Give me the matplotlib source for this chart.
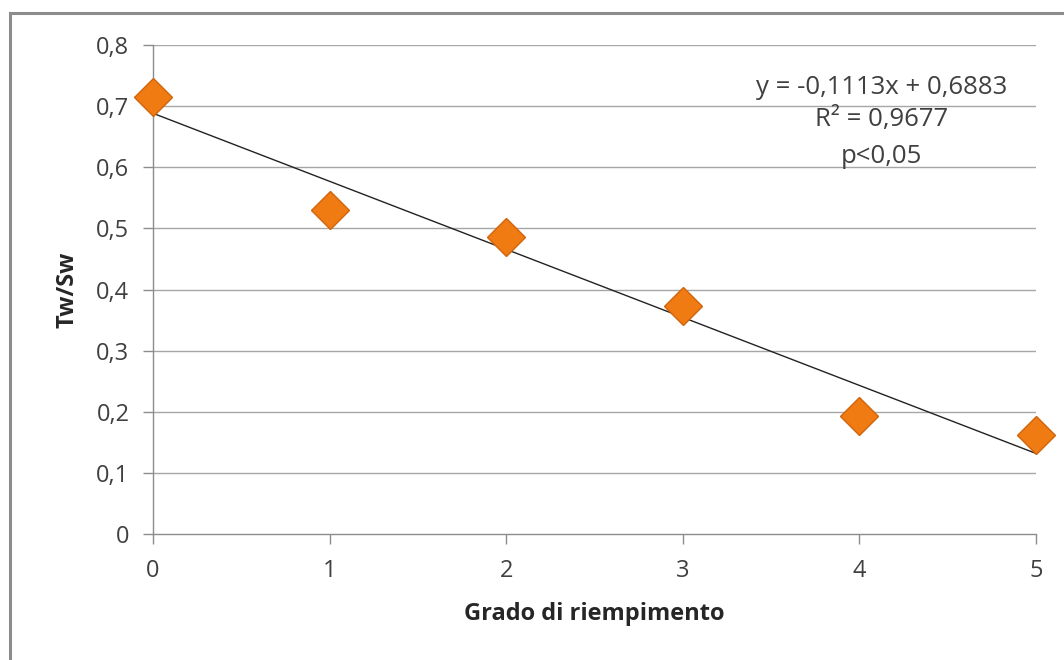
import matplotlib.pyplot as plt
from matplotlib.patches import Rectangle
from matplotlib.ticker import FuncFormatter

# data
grado = [0, 1, 2, 3, 4, 5]
tw_sw = [0.715, 0.530, 0.486, 0.373, 0.193, 0.162]

# trend line from the printed equation
slope = -0.1113
intercept = 0.6883
r2_text = "R\u00b2 = 0,9677"
p_text = "p<0,05"

plt.rcParams['font.family'] = ['Open Sans', 'DejaVu Sans']

fig = plt.figure(figsize=(10.64, 6.6), dpi=100)
ax = fig.add_axes([0.1438, 0.1909, 0.8299, 0.7409])

# outer chart frame
fig.patches.append(Rectangle((10 / 1064, -0.1), 1.2, (660 - 13) / 660 + 0.1,
                             transform=fig.transFigure, fill=False,
                             edgecolor='#8c8c8c', linewidth=2.2))

for y in [0.1, 0.2, 0.3, 0.4, 0.5, 0.6, 0.7, 0.8]:
    ax.axhline(y, color='#a6a6a6', linewidth=1.0, zorder=0)

x_fit = [grado[0], grado[-1]]
y_fit = [intercept + slope * x for x in x_fit]
ax.plot(x_fit, y_fit, color='#222222', linewidth=1.0, zorder=2)

ax.plot(grado, tw_sw, linestyle='none', marker='D', markersize=19,
        markerfacecolor='#f07b12', markeredgecolor='#d0650c',
        markeredgewidth=1.0, zorder=3, clip_on=False)

ax.set_xlim(0, 5)
ax.set_ylim(0, 0.8)
ax.set_xticks(grado)
ax.set_yticks([0, 0.1, 0.2, 0.3, 0.4, 0.5, 0.6, 0.7, 0.8])
ax.yaxis.set_major_formatter(FuncFormatter(lambda v, p: ('%g' % round(v, 1)).replace('.', ',')))

for s in ['top', 'right']:
    ax.spines[s].set_visible(False)
for s in ['left', 'bottom']:
    ax.spines[s].set_color('#8c8c8c')
    ax.spines[s].set_linewidth(1.0)

ax.tick_params(axis='both', colors='#8c8c8c', labelcolor='#404040',
               labelsize=17, length=7, width=1.0)
ax.tick_params(axis='x', pad=11)
ax.tick_params(axis='y', pad=10)

ax.set_xlabel('Grado di riempimento', fontsize=17, fontweight='bold',
              color='#262626', labelpad=14)
ax.set_ylabel('Tw/Sw', fontsize=17, fontweight='bold', color='#262626',
              labelpad=12)

eq_text = "y = %s x + %s" % (str(slope).replace('.', ','), str(intercept).replace('.', ','))
eq_text = eq_text.replace(' x', 'x')
ax.text(0.825, 0.914, eq_text, transform=ax.transAxes, ha='center', va='center',
        fontsize=18.5, color='#404040')
ax.text(0.825, 0.847, r2_text, transform=ax.transAxes, ha='center', va='center',
        fontsize=18.5, color='#404040')
ax.text(0.825, 0.773, p_text, transform=ax.transAxes, ha='center', va='center',
        fontsize=18.5, color='#404040')

fig.savefig('out.png', dpi=100)
